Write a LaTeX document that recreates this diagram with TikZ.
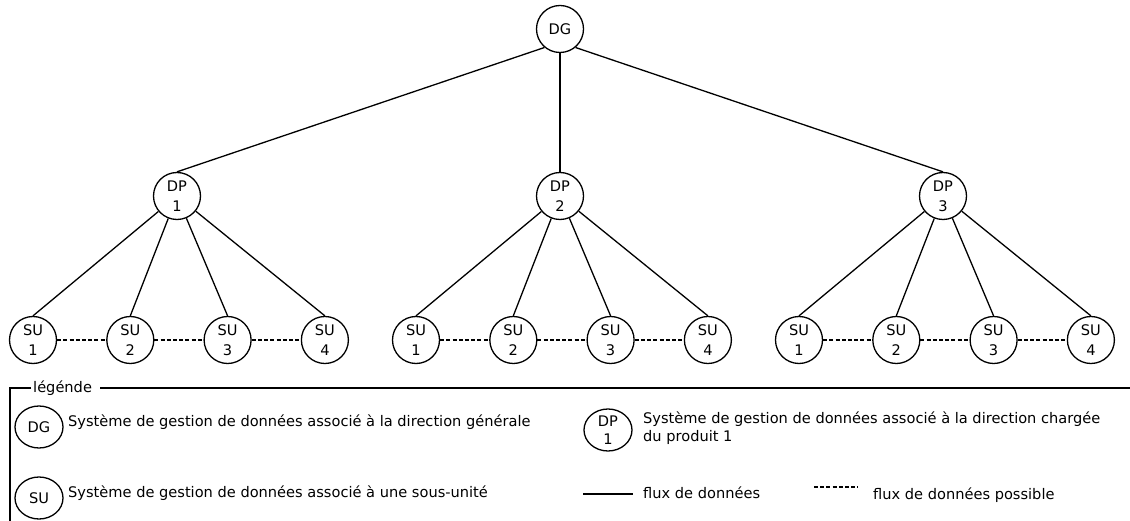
\documentclass[tikz,border=0pt]{standalone}
\usepackage{fontspec}
\setmainfont{DejaVu Sans}
\usetikzlibrary{shapes.geometric, positioning}
\tikzstyle{unit} = [circle, draw=black, line width=1.3pt, minimum size=47pt, inner sep=0pt, align=center, font=\fontsize{14.6}{20}\selectfont]
\tikzstyle{legunit} = [ellipse, draw=black, line width=1.3pt, minimum width=48pt, minimum height=42pt, inner sep=0pt, align=center, font=\fontsize{14.6}{18}\selectfont]
\tikzstyle{legtext} = [inner sep=0pt, align=left, font=\fontsize{14.6}{18}\selectfont]
\tikzstyle{flux} = [black, line width=1.3pt]
\tikzstyle{fluxposs} = [black, line width=1.2pt, dash pattern=on 4pt off 2.2pt]

\begin{document}
\begin{tikzpicture}[x=1pt, y=-1pt, node distance=49pt]
    \useasboundingbox (0,0) rectangle (1130,521);

    % direction generale et directions produit
    \node[unit] (dg) at (560,29) {DG};
    \node[unit] (dp1) at (177,196) {DP\\1};
    \node[unit] (dp2) at (560,196) {DP\\2};
    \node[unit] (dp3) at (943,196) {DP\\3};

    % sous-unites
    \node[unit] (su11) at (33,340) {SU\\1};
    \node[unit, right=of su11] (su12) {SU\\2};
    \node[unit, right=of su12] (su13) {SU\\3};
    \node[unit, right=of su13] (su14) {SU\\4};
    \node[unit] (su21) at (416,340) {SU\\1};
    \node[unit, right=of su21] (su22) {SU\\2};
    \node[unit, right=of su22] (su23) {SU\\3};
    \node[unit, right=of su23] (su24) {SU\\4};
    \node[unit] (su31) at (799,340) {SU\\1};
    \node[unit, right=of su31] (su32) {SU\\2};
    \node[unit, right=of su32] (su33) {SU\\3};
    \node[unit, right=of su33] (su34) {SU\\4};

    \draw[flux] (dg.-130) -- (dp1.north);
    \draw[flux] (dg) -- (dp2);
    \draw[flux] (dg.-50) -- (dp3.north);

    \draw[flux] (dp1) -- (su11.north);
    \draw[flux] (dp1) -- (su12.north);
    \draw[flux] (dp1) -- (su13.north);
    \draw[flux] (dp1) -- (su14.north);
    \draw[flux] (dp2) -- (su21.north);
    \draw[flux] (dp2) -- (su22.north);
    \draw[flux] (dp2) -- (su23.north);
    \draw[flux] (dp2) -- (su24.north);
    \draw[flux] (dp3) -- (su31.north);
    \draw[flux] (dp3) -- (su32.north);
    \draw[flux] (dp3) -- (su33.north);
    \draw[flux] (dp3) -- (su34.north);

    \draw[fluxposs] (su11) -- (su12);
    \draw[fluxposs] (su12) -- (su13);
    \draw[fluxposs] (su13) -- (su14);
    \draw[fluxposs] (su21) -- (su22);
    \draw[fluxposs] (su22) -- (su23);
    \draw[fluxposs] (su23) -- (su24);
    \draw[fluxposs] (su31) -- (su32);
    \draw[fluxposs] (su32) -- (su33);
    \draw[fluxposs] (su33) -- (su34);

    % legende
    \node[legtext, anchor=west] (legende) at (33,388) {légénde};
    \coordinate (cadrehg) at (10,388);
    \coordinate (cadrebg) at (10,521);
    \coordinate (cadrehd) at (1130,388);
    \draw[flux] ([xshift=-2pt]legende.west) -- (cadrehg) -- (cadrebg);
    \draw[flux] ([xshift=8pt]legende.east) -- (cadrehd);

    \node[legunit] (legdg) at (39,427) {DG};
    \node[legtext, anchor=base west] (txtdg) at (68,426) {Système de gestion de données associé à la direction générale};
    \node[legunit] (legsu) at (39,498) {SU};
    \node[legtext, anchor=base west] (txtsu) at (68,497) {Système de gestion de données associé à une sous-unité};
    \node[legunit] (legdp) at (608,430) {DP\\1};
    \node[legtext, anchor=west] (txtdp) at (643,428) {Système de gestion de données associé à la direction chargée\\du produit 1};

    \coordinate (fluxa) at (583,494);
    \coordinate (fluxb) at (633,494);
    \draw[flux] (fluxa) -- (fluxb);
    \node[legtext, anchor=base west] (txtflux) at (643,498) {flux de données};
    \coordinate (possa) at (814,487);
    \coordinate (possb) at (858,487);
    \draw[fluxposs] (possa) -- (possb);
    \node[legtext, anchor=base west] (txtposs) at (873,499) {flux de données possible};
\end{tikzpicture}
\end{document}
